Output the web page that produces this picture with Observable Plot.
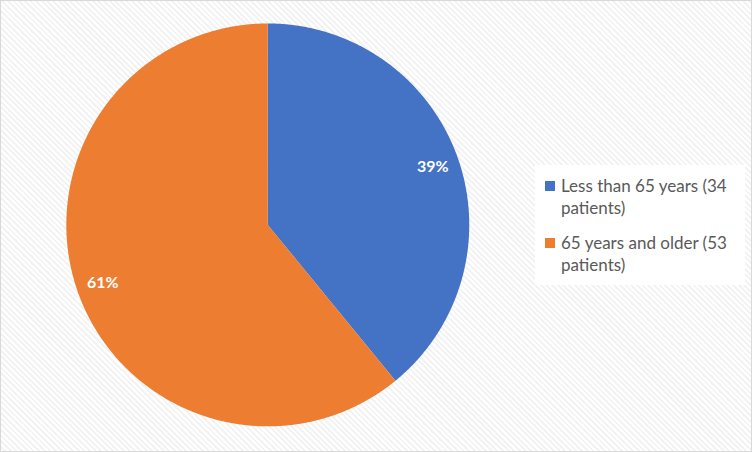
<!DOCTYPE html>
<html>
<head>
<meta charset="utf-8">
<script src="https://cdn.jsdelivr.net/npm/d3@7"></script>
<script src="https://cdn.jsdelivr.net/npm/@observablehq/plot@0.6"></script>
<style>
  html, body { margin: 0; padding: 0; background: #fff; }
  #chart {
    position: relative; width: 750px; height: 450px;
    border: 1px solid #d9d9d9;
    background: repeating-linear-gradient(45deg, #ffffff 0px, #ffffff 2px, #f3f3f3 2px, #f3f3f3 4px);
    overflow: hidden;
  }
  #chart svg { position: absolute; left: -1px; top: -1px; background: transparent; }
  #legend {
    position: absolute; left: 534px; top: 164px; width: 210px; height: 120px;
    background: #fff; font-family: Lato, "Open Sans", sans-serif; font-size: 17px; color: #595959;
  }
  .item { position: absolute; left: 26px; line-height: 22px; }
  .sw { position: absolute; left: -16px; top: 6px; width: 10px; height: 10px; }
</style>
</head>
<body>
<div id="chart"><div id="legend"></div></div>
<script>
const categories = ["Less than 65 years (34 patients)", "65 years and older (53 patients)"];
const legendLines = [["Less than 65 years (34", "patients)"], ["65 years and older (53", "patients)"]];
const patients = [34, 53];
const colors = ["#4472C4", "#ED7D31"];

const total = d3.sum(patients);
const pie = d3.pie().sort(null).value(d => d)(patients);

// build slice outlines on unit circle (angle 0 at top, clockwise)
const slicePts = [];
pie.forEach((p, i) => {
  slicePts.push({cat: categories[i], x: 0, y: 0});
  const n = Math.max(2, Math.ceil((p.endAngle - p.startAngle) / 0.005));
  for (let k = 0; k <= n; k++) {
    const a = p.startAngle + (p.endAngle - p.startAngle) * k / n;
    slicePts.push({cat: categories[i], x: Math.sin(a), y: Math.cos(a)});
  }
  slicePts.push({cat: categories[i], x: 0, y: 0});
});
const labels = pie.map((p, i) => {
  const a = (p.startAngle + p.endAngle) / 2;
  return {x: 0.87 * Math.sin(a), y: 0.86 * Math.cos(a), text: Math.round(patients[i] / total * 100) + "%"};
});

const plot = Plot.plot({
  width: 752, height: 452,
  marginLeft: 66, marginRight: 282, marginTop: 23, marginBottom: 25,
  x: {domain: [-1, 1], axis: null},
  y: {domain: [-1, 1], axis: null},
  color: {domain: categories, range: colors},
  style: {background: "transparent"},
  marks: [
    Plot.line(slicePts, {x: "x", y: "y", z: "cat", fill: "cat", stroke: "none", curve: "linear"}),
    Plot.text(labels, {x: "x", y: "y", text: "text", fill: "white", fontWeight: "bold", fontSize: 16, fontFamily: "Lato, 'Open Sans', sans-serif"})
  ]
});
document.getElementById("chart").appendChild(plot);

const legend = document.getElementById("legend");
const tops = [10, 67];
legendLines.forEach((lines, i) => {
  const div = document.createElement("div");
  div.className = "item";
  div.style.top = tops[i] + "px";
  div.innerHTML = `<span class="sw" style="background:${colors[i]}"></span>${lines[0]}<br>${lines[1]}`;
  legend.appendChild(div);
});
</script>
</body>
</html>
